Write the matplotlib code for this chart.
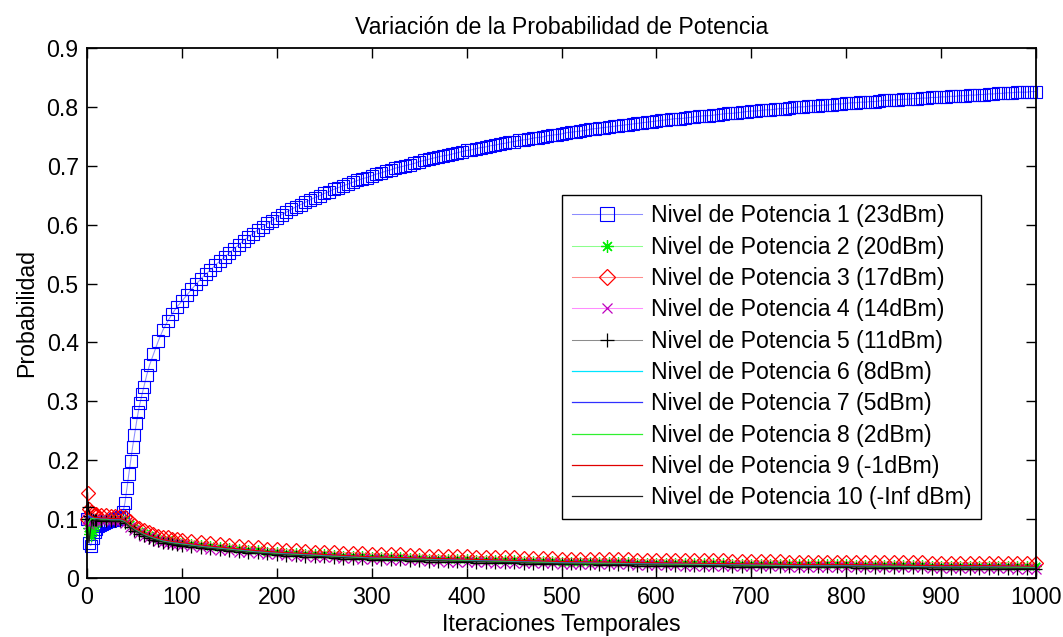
import numpy as np
import matplotlib
matplotlib.use("Agg")
import matplotlib.pyplot as plt

plt.rcParams['font.family'] = ['Liberation Sans', 'DejaVu Sans']

# iteraciones muestreadas
iter_n1 = np.concatenate([
    [0, 2, 4, 6, 8, 10, 12, 14, 16, 18, 20, 22, 24, 26, 28, 30, 32, 34, 36, 38,
     40, 42, 44, 46, 48, 50, 52, 54, 56, 58, 60, 63, 66, 70, 75, 80, 85, 90, 95, 100],
    np.arange(105, 1001, 5)])
iter_marc = np.concatenate([
    [0, 1, 2, 4, 6, 8, 10, 15, 20, 25, 30, 35, 40, 45, 50, 55, 60, 65, 70, 75,
     80, 85, 90, 95, 100],
    np.arange(110, 1001, 10)])
iter_lin = [0, 1, 2, 4, 6, 8, 10, 15, 20, 25, 30, 35, 40, 45, 50, 60, 70, 80, 90, 100,
            125, 150, 175, 200, 250, 300, 350, 400, 450, 500, 550, 600, 650, 700, 750,
            800, 850, 900, 950, 1000]

# nivel 1 (23 dBm)
p1 = [0.100, 0.060, 0.055, 0.068, 0.078, 0.084, 0.088, 0.090, 0.092, 0.094,
      0.095, 0.096, 0.097, 0.098, 0.099, 0.100, 0.101, 0.102, 0.104, 0.112,
      0.128, 0.152, 0.176, 0.199, 0.222, 0.243, 0.263, 0.282, 0.298, 0.312,
      0.325, 0.345, 0.362, 0.380, 0.402, 0.421, 0.436, 0.449, 0.461, 0.470,
      0.480, 0.490, 0.499, 0.508, 0.516, 0.523, 0.531, 0.538, 0.545, 0.552,
      0.559, 0.566, 0.573, 0.579, 0.585, 0.591, 0.596, 0.602, 0.607, 0.612,
      0.617, 0.621, 0.626, 0.630, 0.634, 0.638, 0.642, 0.646, 0.649, 0.653,
      0.656, 0.660, 0.663, 0.666, 0.669, 0.672, 0.675, 0.678, 0.680, 0.683,
      0.686, 0.688, 0.691, 0.693, 0.696, 0.698, 0.700, 0.702, 0.704, 0.707,
      0.709, 0.711, 0.713, 0.715, 0.717, 0.718, 0.720, 0.722, 0.724, 0.726,
      0.727, 0.729, 0.731, 0.732, 0.734, 0.735, 0.737, 0.738, 0.740, 0.741,
      0.743, 0.744, 0.745, 0.747, 0.748, 0.749, 0.751, 0.752, 0.753, 0.754,
      0.756, 0.757, 0.758, 0.759, 0.760, 0.762, 0.763, 0.764, 0.765, 0.766,
      0.767, 0.768, 0.769, 0.770, 0.771, 0.772, 0.773, 0.774, 0.775, 0.776,
      0.777, 0.778, 0.779, 0.780, 0.780, 0.781, 0.782, 0.783, 0.784, 0.785,
      0.785, 0.786, 0.787, 0.788, 0.789, 0.789, 0.790, 0.791, 0.792, 0.793,
      0.793, 0.794, 0.795, 0.795, 0.796, 0.797, 0.797, 0.798, 0.799, 0.800,
      0.800, 0.801, 0.802, 0.802, 0.803, 0.803, 0.804, 0.805, 0.805, 0.806,
      0.807, 0.807, 0.808, 0.808, 0.809, 0.809, 0.810, 0.811, 0.811, 0.812,
      0.812, 0.813, 0.813, 0.814, 0.814, 0.815, 0.815, 0.816, 0.816, 0.817,
      0.817, 0.818, 0.818, 0.819, 0.819, 0.820, 0.820, 0.821, 0.821, 0.822,
      0.822, 0.823, 0.823, 0.824, 0.824, 0.825, 0.825, 0.825, 0.826, 0.826]

# niveles 2..5 (con marcadores)
p2 = [0.100, 0.085, 0.075, 0.072, 0.080, 0.088, 0.094, 0.099, 0.101, 0.101,
      0.101, 0.101, 0.098, 0.091, 0.085, 0.080, 0.076, 0.073, 0.070, 0.067,
      0.065, 0.064, 0.062, 0.061, 0.060,
      0.058, 0.056, 0.054, 0.052, 0.051, 0.049, 0.048, 0.047, 0.045, 0.044,
      0.043, 0.042, 0.041, 0.040, 0.040, 0.039, 0.038, 0.038, 0.037, 0.036,
      0.036, 0.035, 0.035, 0.034, 0.034, 0.033, 0.033, 0.032, 0.032, 0.032,
      0.031, 0.031, 0.030, 0.030, 0.030, 0.029, 0.029, 0.029, 0.029, 0.028,
      0.028, 0.028, 0.028, 0.027, 0.027, 0.027, 0.027, 0.026, 0.026, 0.026,
      0.026, 0.026, 0.025, 0.025, 0.025, 0.025, 0.025, 0.024, 0.024, 0.024,
      0.024, 0.024, 0.024, 0.023, 0.023, 0.023, 0.023, 0.023, 0.023, 0.023,
      0.022, 0.022, 0.022, 0.022, 0.022, 0.022, 0.022, 0.022, 0.021, 0.021,
      0.021, 0.021, 0.021, 0.021, 0.021, 0.021, 0.021, 0.020, 0.020, 0.020]
p3 = [0.100, 0.145, 0.118, 0.112, 0.110, 0.109, 0.108, 0.107, 0.107, 0.106,
      0.106, 0.106, 0.103, 0.096, 0.090, 0.085, 0.081, 0.078, 0.075, 0.072,
      0.070, 0.069, 0.067, 0.066, 0.065,
      0.063, 0.061, 0.059, 0.057, 0.056, 0.054, 0.053, 0.052, 0.050, 0.049,
      0.048, 0.047, 0.046, 0.045, 0.045, 0.044, 0.043, 0.043, 0.042, 0.041,
      0.041, 0.040, 0.040, 0.039, 0.039, 0.038, 0.038, 0.037, 0.037, 0.037,
      0.036, 0.036, 0.035, 0.035, 0.035, 0.034, 0.034, 0.034, 0.034, 0.033,
      0.033, 0.033, 0.033, 0.032, 0.032, 0.032, 0.032, 0.031, 0.031, 0.031,
      0.031, 0.031, 0.030, 0.030, 0.030, 0.030, 0.030, 0.029, 0.029, 0.029,
      0.029, 0.029, 0.029, 0.028, 0.028, 0.028, 0.028, 0.028, 0.028, 0.028,
      0.027, 0.027, 0.027, 0.027, 0.027, 0.027, 0.027, 0.027, 0.026, 0.026,
      0.026, 0.026, 0.026, 0.026, 0.026, 0.026, 0.026, 0.025, 0.025, 0.025]
p4 = [0.100, 0.098, 0.092, 0.095, 0.097, 0.098, 0.099, 0.098, 0.098, 0.097,
      0.097, 0.097, 0.094, 0.087, 0.081, 0.076, 0.072, 0.069, 0.066, 0.063,
      0.061, 0.060, 0.058, 0.057, 0.056,
      0.054, 0.052, 0.050, 0.048, 0.047, 0.045, 0.044, 0.043, 0.041, 0.040,
      0.039, 0.038, 0.037, 0.036, 0.036, 0.035, 0.034, 0.034, 0.033, 0.032,
      0.032, 0.031, 0.031, 0.030, 0.030, 0.029, 0.029, 0.028, 0.028, 0.028,
      0.027, 0.027, 0.026, 0.026, 0.026, 0.025, 0.025, 0.025, 0.025, 0.024,
      0.024, 0.024, 0.024, 0.023, 0.023, 0.023, 0.023, 0.022, 0.022, 0.022,
      0.022, 0.022, 0.021, 0.021, 0.021, 0.021, 0.021, 0.020, 0.020, 0.020,
      0.020, 0.020, 0.020, 0.019, 0.019, 0.019, 0.019, 0.019, 0.019, 0.019,
      0.018, 0.018, 0.018, 0.018, 0.018, 0.018, 0.018, 0.018, 0.017, 0.017,
      0.017, 0.017, 0.017, 0.017, 0.017, 0.017, 0.017, 0.016, 0.016, 0.016]
p5 = [0.100, 0.120, 0.105, 0.100, 0.099, 0.098, 0.098, 0.097, 0.097, 0.096,
      0.096, 0.096, 0.093, 0.086, 0.080, 0.075, 0.071, 0.068, 0.065, 0.062,
      0.060, 0.059, 0.057, 0.056, 0.055,
      0.053, 0.051, 0.049, 0.047, 0.046, 0.044, 0.043, 0.042, 0.040, 0.039,
      0.038, 0.037, 0.036, 0.035, 0.035, 0.034, 0.033, 0.033, 0.032, 0.031,
      0.031, 0.030, 0.030, 0.029, 0.029, 0.028, 0.028, 0.027, 0.027, 0.027,
      0.026, 0.026, 0.025, 0.025, 0.025, 0.024, 0.024, 0.024, 0.024, 0.023,
      0.023, 0.023, 0.023, 0.022, 0.022, 0.022, 0.022, 0.021, 0.021, 0.021,
      0.021, 0.021, 0.020, 0.020, 0.020, 0.020, 0.020, 0.019, 0.019, 0.019,
      0.019, 0.019, 0.019, 0.018, 0.018, 0.018, 0.018, 0.018, 0.018, 0.018,
      0.017, 0.017, 0.017, 0.017, 0.017, 0.017, 0.017, 0.017, 0.016, 0.016,
      0.016, 0.016, 0.016, 0.016, 0.016, 0.016, 0.016, 0.015, 0.015, 0.015]

# niveles 6..10 (solo linea)
p6 = [0.100, 0.110, 0.106, 0.104, 0.103, 0.102, 0.102, 0.101, 0.101, 0.100,
      0.100, 0.100, 0.097, 0.090, 0.084, 0.075, 0.069, 0.064, 0.061, 0.059,
      0.054, 0.050, 0.046, 0.043, 0.039, 0.035, 0.033, 0.031, 0.029, 0.027,
      0.026, 0.025, 0.024, 0.023, 0.022, 0.022, 0.021, 0.020, 0.020, 0.019]
p7 = [0.100, 0.105, 0.103, 0.104, 0.102, 0.101, 0.101, 0.100, 0.100, 0.099,
      0.099, 0.099, 0.096, 0.089, 0.083, 0.074, 0.068, 0.063, 0.060, 0.058,
      0.053, 0.049, 0.045, 0.042, 0.038, 0.034, 0.032, 0.030, 0.028, 0.026,
      0.025, 0.024, 0.023, 0.022, 0.021, 0.021, 0.020, 0.019, 0.019, 0.018]
p8 = [0.100, 0.090, 0.095, 0.100, 0.101, 0.100, 0.100, 0.099, 0.099, 0.098,
      0.098, 0.098, 0.095, 0.088, 0.082, 0.073, 0.067, 0.062, 0.059, 0.057,
      0.052, 0.048, 0.044, 0.041, 0.037, 0.033, 0.031, 0.029, 0.027, 0.025,
      0.024, 0.023, 0.022, 0.021, 0.020, 0.020, 0.019, 0.018, 0.018, 0.017]
p9 = [0.100, 0.112, 0.108, 0.106, 0.104, 0.103, 0.103, 0.102, 0.102, 0.101,
      0.101, 0.101, 0.098, 0.091, 0.085, 0.076, 0.070, 0.065, 0.062, 0.060,
      0.055, 0.051, 0.047, 0.044, 0.040, 0.036, 0.034, 0.032, 0.030, 0.028,
      0.027, 0.026, 0.025, 0.024, 0.023, 0.023, 0.022, 0.021, 0.021, 0.020]
p10 = [0.100, 0.080, 0.060, 0.085, 0.095, 0.098, 0.099, 0.098, 0.098, 0.097,
       0.097, 0.097, 0.094, 0.087, 0.081, 0.072, 0.066, 0.061, 0.058, 0.056,
       0.051, 0.047, 0.043, 0.040, 0.036, 0.032, 0.030, 0.028, 0.026, 0.024,
       0.023, 0.022, 0.021, 0.020, 0.019, 0.019, 0.018, 0.017, 0.017, 0.016]

etiquetas = ['Nivel de Potencia 1 (23dBm)', 'Nivel de Potencia 2 (20dBm)',
             'Nivel de Potencia 3 (17dBm)', 'Nivel de Potencia 4 (14dBm)',
             'Nivel de Potencia 5 (11dBm)', 'Nivel de Potencia 6 (8dBm)',
             'Nivel de Potencia 7 (5dBm)', 'Nivel de Potencia 8 (2dBm)',
             'Nivel de Potencia 9 (-1dBm)', 'Nivel de Potencia 10 (-Inf dBm)']

FS = 16.7

fig = plt.figure(figsize=(10.63, 6.37), dpi=100)
ax = fig.add_axes([87 / 1063, 1 - 578 / 637, 949 / 1063, 530 / 637])

# series con marcador: linea fina clara, marcador saturado
ax.plot(iter_n1, p1, color='#8c8cff', lw=0.75, marker='s', ms=8, mfc='none', mec='b',
        mew=0.8, clip_on=False, label=etiquetas[0])
ax.plot(iter_marc, p2, color='#8cff8c', lw=0.75, marker=(8, 2, 0), ms=7.5,
        mec='#00ee00', mew=0.9, clip_on=False, label=etiquetas[1])
ax.plot(iter_marc, p3, color='#ff8c8c', lw=0.75, marker='D', ms=7, mfc='none',
        mec='r', mew=0.9, clip_on=False, label=etiquetas[2])
ax.plot(iter_marc, p4, color='#ff8cff', lw=0.75, marker='x', ms=6.5, mec='m', mew=0.9,
        clip_on=False, label=etiquetas[3])
ax.plot(iter_marc, p5, color='#8c8c8c', lw=0.75, marker='+', ms=8.5, mec='k', mew=0.9,
        clip_on=False, label=etiquetas[4])
ax.plot(iter_lin, p6, color='#00e5ff', lw=0.9, label=etiquetas[5])
ax.plot(iter_lin, p7, color='#3030ff', lw=0.9, label=etiquetas[6])
ax.plot(iter_lin, p8, color='#30f030', lw=0.9, label=etiquetas[7])
ax.plot(iter_lin, p9, color='#e00000', lw=0.9, label=etiquetas[8])
ax.plot(iter_lin, p10, color='#202020', lw=0.9, label=etiquetas[9])

ax.set_xlim(0, 1000)
ax.set_ylim(0, 0.9)
ax.set_xticks(np.arange(0, 1001, 100))
ax.set_yticks(np.arange(0, 0.91, 0.1))
ax.set_yticklabels(['0', '0.1', '0.2', '0.3', '0.4', '0.5', '0.6', '0.7', '0.8', '0.9'])
ax.tick_params(direction='in', top=True, right=True, length=7, width=1,
               labelsize=FS)
ax.tick_params(axis='x', pad=6)
ax.tick_params(axis='y', pad=6)
for s in ax.spines.values():
    s.set_linewidth(1.3)

ax.set_title('Variación de la Probabilidad de Potencia', fontsize=FS, pad=10)
ax.set_xlabel('Iteraciones Temporales', fontsize=FS, labelpad=3)
ax.set_ylabel('Probabilidad', fontsize=FS, labelpad=6)

leg = ax.legend(loc='upper left', bbox_to_anchor=(0.501, 0.7226), fontsize=FS,
                frameon=True, fancybox=False, edgecolor='k', framealpha=1,
                borderaxespad=0, handlelength=3.05, handletextpad=0.38,
                labelspacing=0.36, borderpad=0.4, numpoints=1, markerscale=1.2)
leg.get_frame().set_linewidth(1.0)

fig.savefig('out.png', dpi=100)
